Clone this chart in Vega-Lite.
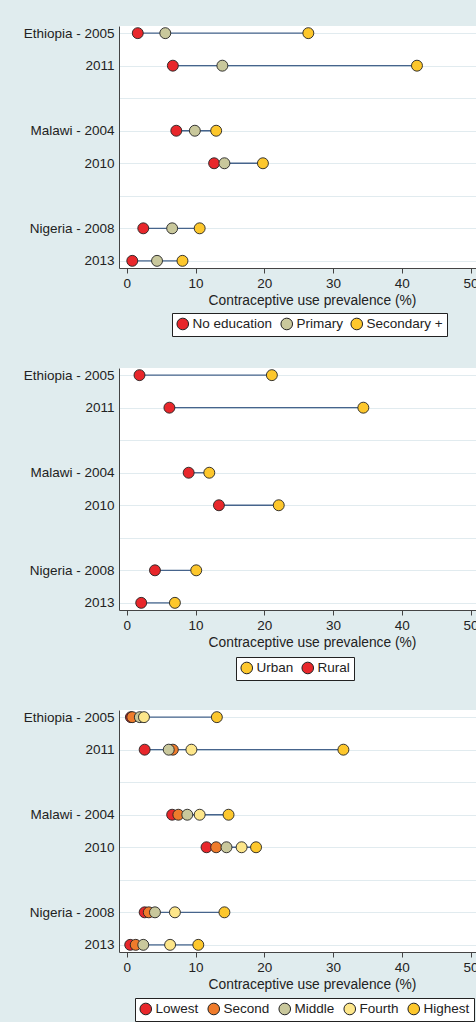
{
  "$schema": "https://vega.github.io/schema/vega-lite/v6.json",
  "background": "#e0ecee",
  "padding": {"left": 23, "top": 25, "right": 0, "bottom": 2},
  "autosize": {"type": "pad"},
  "config": {
    "font": "Liberation Sans",
    "view": {"fill": "white", "stroke": null},
    "axis": {
      "labelFont": "Liberation Sans", "labelFontSize": 13.5, "labelColor": "#222",
      "titleFont": "Liberation Sans", "titleFontSize": 13.8, "titleFontWeight": "normal", "titleColor": "#222",
      "domainColor": "#444", "tickColor": "#444"
    },
    "legend": {
      "orient": "none", "direction": "horizontal", "title": null,
      "strokeColor": "#222", "fillColor": "white", "padding": 4,
      "symbolType": "circle", "symbolSize": 135, "symbolStrokeColor": "#222", "symbolStrokeWidth": 1, "symbolOpacity": 1,
      "labelFont": "Liberation Sans", "labelFontSize": 13.5, "labelColor": "#222",
      "columnPadding": 5, "labelOffset": 3
    }
  },
  "datasets": {
    "education": [
      {"survey": "Ethiopia - 2005", "group": "No education", "pct": 1.6},
      {"survey": "Ethiopia - 2005", "group": "Primary", "pct": 5.6},
      {"survey": "Ethiopia - 2005", "group": "Secondary +", "pct": 26.4},
      {"survey": "2011", "group": "No education", "pct": 6.7},
      {"survey": "2011", "group": "Primary", "pct": 13.9},
      {"survey": "2011", "group": "Secondary +", "pct": 42.2},
      {"survey": "Malawi - 2004", "group": "No education", "pct": 7.2},
      {"survey": "Malawi - 2004", "group": "Primary", "pct": 9.9},
      {"survey": "Malawi - 2004", "group": "Secondary +", "pct": 13.0},
      {"survey": "2010", "group": "No education", "pct": 12.7},
      {"survey": "2010", "group": "Primary", "pct": 14.2},
      {"survey": "2010", "group": "Secondary +", "pct": 19.8},
      {"survey": "Nigeria - 2008", "group": "No education", "pct": 2.4},
      {"survey": "Nigeria - 2008", "group": "Primary", "pct": 6.6},
      {"survey": "Nigeria - 2008", "group": "Secondary +", "pct": 10.6},
      {"survey": "2013", "group": "No education", "pct": 0.8},
      {"survey": "2013", "group": "Primary", "pct": 4.4},
      {"survey": "2013", "group": "Secondary +", "pct": 8.1}
    ],
    "residence": [
      {"survey": "Ethiopia - 2005", "group": "Urban", "pct": 21.1},
      {"survey": "Ethiopia - 2005", "group": "Rural", "pct": 1.85},
      {"survey": "2011", "group": "Urban", "pct": 34.4},
      {"survey": "2011", "group": "Rural", "pct": 6.2},
      {"survey": "Malawi - 2004", "group": "Urban", "pct": 12.0},
      {"survey": "Malawi - 2004", "group": "Rural", "pct": 9.0},
      {"survey": "2010", "group": "Urban", "pct": 22.1},
      {"survey": "2010", "group": "Rural", "pct": 13.4},
      {"survey": "Nigeria - 2008", "group": "Urban", "pct": 10.1},
      {"survey": "Nigeria - 2008", "group": "Rural", "pct": 4.1},
      {"survey": "2013", "group": "Urban", "pct": 7.0},
      {"survey": "2013", "group": "Rural", "pct": 2.1}
    ],
    "wealth": [
      {"survey": "Ethiopia - 2005", "group": "Lowest", "pct": 0.6},
      {"survey": "Ethiopia - 2005", "group": "Second", "pct": 0.8},
      {"survey": "Ethiopia - 2005", "group": "Middle", "pct": 1.9},
      {"survey": "Ethiopia - 2005", "group": "Fourth", "pct": 2.5},
      {"survey": "Ethiopia - 2005", "group": "Highest", "pct": 13.1},
      {"survey": "2011", "group": "Lowest", "pct": 2.6},
      {"survey": "2011", "group": "Second", "pct": 6.7},
      {"survey": "2011", "group": "Middle", "pct": 6.1},
      {"survey": "2011", "group": "Fourth", "pct": 9.4},
      {"survey": "2011", "group": "Highest", "pct": 31.5},
      {"survey": "Malawi - 2004", "group": "Lowest", "pct": 6.6},
      {"survey": "Malawi - 2004", "group": "Second", "pct": 7.5},
      {"survey": "Malawi - 2004", "group": "Middle", "pct": 8.8},
      {"survey": "Malawi - 2004", "group": "Fourth", "pct": 10.6},
      {"survey": "Malawi - 2004", "group": "Highest", "pct": 14.8},
      {"survey": "2010", "group": "Lowest", "pct": 11.6},
      {"survey": "2010", "group": "Second", "pct": 13.0},
      {"survey": "2010", "group": "Middle", "pct": 14.5},
      {"survey": "2010", "group": "Fourth", "pct": 16.7},
      {"survey": "2010", "group": "Highest", "pct": 18.8},
      {"survey": "Nigeria - 2008", "group": "Lowest", "pct": 2.6},
      {"survey": "Nigeria - 2008", "group": "Second", "pct": 3.2},
      {"survey": "Nigeria - 2008", "group": "Middle", "pct": 4.1},
      {"survey": "Nigeria - 2008", "group": "Fourth", "pct": 7.0},
      {"survey": "Nigeria - 2008", "group": "Highest", "pct": 14.2},
      {"survey": "2013", "group": "Lowest", "pct": 0.5},
      {"survey": "2013", "group": "Second", "pct": 1.3},
      {"survey": "2013", "group": "Middle", "pct": 2.4},
      {"survey": "2013", "group": "Fourth", "pct": 6.3},
      {"survey": "2013", "group": "Highest", "pct": 10.4}
    ]
  },
  "vconcat": [
    {
      "data": {"name": "education"},
      "width": 386, "height": 242,
      "encoding": {
        "y": {"field": "survey", "type": "nominal",
          "scale": {"type": "point", "padding": 0.22, "domain": ["Ethiopia - 2005", "2011", " ", "Malawi - 2004", "2010", "  ", "Nigeria - 2008", "2013"]},
          "axis": {"title": null, "ticks": false, "labelPadding": 5, "grid": true, "gridColor": "#e1ebef", "gridWidth": 1.2, "domainColor": "#444"}}
      },
      "layer": [
        {
          "mark": {"type": "rule", "color": "#46648c", "strokeWidth": 1.3},
          "encoding": {
            "x": {"aggregate": "min", "field": "pct", "type": "quantitative", "title": "Contraceptive use prevalence (%)",
              "scale": {"domain": [-1.13, 55], "nice": false, "zero": false},
              "axis": {"values": [0, 10, 20, 30, 40, 50], "grid": false, "tickSize": 5, "labelPadding": 3, "titlePadding": 4, "labelOverlap": false}},
            "x2": {"aggregate": "max", "field": "pct"}
          }
        },
        {
          "mark": {"type": "circle", "size": 120, "opacity": 1, "stroke": "#222", "strokeWidth": 0.9},
          "encoding": {
            "x": {"field": "pct", "type": "quantitative", "title": "Contraceptive use prevalence (%)"},
            "color": {"field": "group", "type": "nominal",
              "scale": {"domain": ["No education", "Primary", "Secondary +"], "range": ["#e8272b", "#c9c89c", "#fdc72c"]},
              "legend": {"legendX": 53, "legendY": 287}}
          }
        }
      ]
    },
    {
      "data": {"name": "residence"},
      "width": 386, "height": 242,
      "encoding": {
        "y": {"field": "survey", "type": "nominal",
          "scale": {"type": "point", "padding": 0.22, "domain": ["Ethiopia - 2005", "2011", " ", "Malawi - 2004", "2010", "  ", "Nigeria - 2008", "2013"]},
          "axis": {"title": null, "ticks": false, "labelPadding": 5, "grid": true, "gridColor": "#e1ebef", "gridWidth": 1.2, "domainColor": "#444"}}
      },
      "layer": [
        {
          "mark": {"type": "rule", "color": "#46648c", "strokeWidth": 1.3},
          "encoding": {
            "x": {"aggregate": "min", "field": "pct", "type": "quantitative", "title": "Contraceptive use prevalence (%)",
              "scale": {"domain": [-1.13, 55], "nice": false, "zero": false},
              "axis": {"values": [0, 10, 20, 30, 40, 50], "grid": false, "tickSize": 5, "labelPadding": 3, "titlePadding": 4, "labelOverlap": false}},
            "x2": {"aggregate": "max", "field": "pct"}
          }
        },
        {
          "mark": {"type": "circle", "size": 120, "opacity": 1, "stroke": "#222", "strokeWidth": 0.9},
          "encoding": {
            "x": {"field": "pct", "type": "quantitative", "title": "Contraceptive use prevalence (%)"},
            "color": {"field": "group", "type": "nominal",
              "scale": {"domain": ["Urban", "Rural"], "range": ["#fdc72c", "#e8272b"]},
              "legend": {"legendX": 117, "legendY": 289}}
          }
        }
      ]
    },
    {
      "data": {"name": "wealth"},
      "width": 386, "height": 242,
      "encoding": {
        "y": {"field": "survey", "type": "nominal",
          "scale": {"type": "point", "padding": 0.22, "domain": ["Ethiopia - 2005", "2011", " ", "Malawi - 2004", "2010", "  ", "Nigeria - 2008", "2013"]},
          "axis": {"title": null, "ticks": false, "labelPadding": 5, "grid": true, "gridColor": "#e1ebef", "gridWidth": 1.2, "domainColor": "#444"}}
      },
      "layer": [
        {
          "mark": {"type": "rule", "color": "#46648c", "strokeWidth": 1.3},
          "encoding": {
            "x": {"aggregate": "min", "field": "pct", "type": "quantitative", "title": "Contraceptive use prevalence (%)",
              "scale": {"domain": [-1.13, 55], "nice": false, "zero": false},
              "axis": {"values": [0, 10, 20, 30, 40, 50], "grid": false, "tickSize": 5, "labelPadding": 3, "titlePadding": 4, "labelOverlap": false}},
            "x2": {"aggregate": "max", "field": "pct"}
          }
        },
        {
          "mark": {"type": "circle", "size": 120, "opacity": 1, "stroke": "#222", "strokeWidth": 0.9},
          "encoding": {
            "x": {"field": "pct", "type": "quantitative", "title": "Contraceptive use prevalence (%)"},
            "color": {"field": "group", "type": "nominal",
              "scale": {"domain": ["Lowest", "Second", "Middle", "Fourth", "Highest"], "range": ["#e8272b", "#ef7b2b", "#c9c89c", "#fde68a", "#fdc72c"]},
              "legend": {"legendX": 16, "legendY": 288, "columnPadding": 6}}
          }
        }
      ]
    }
  ],
  "spacing": 100,
  "bounds": "flush",
  "resolve": {"scale": {"color": "independent"}, "legend": {"color": "independent"}}
}
